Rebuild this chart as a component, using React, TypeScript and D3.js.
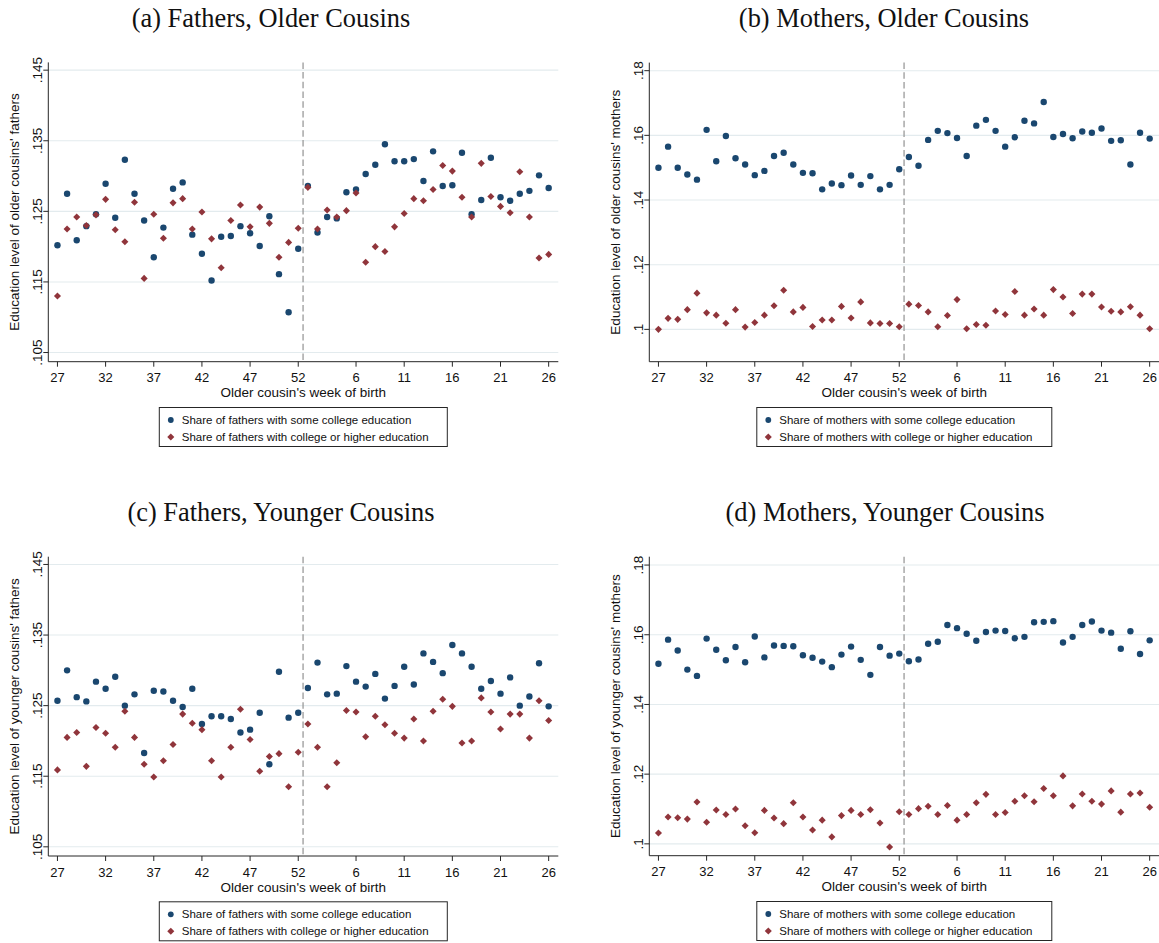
import React from 'react';
import * as d3 from 'd3';

// Week of birth of the older cousin, running from week 27 through the turn of the year to week 26
const weekLabels = [
  27, 28, 29, 30, 31, 32, 33, 34, 35, 36, 37, 38, 39, 40, 41, 42, 43, 44, 45, 46, 47, 48, 49, 50, 51, 52,
  1, 2, 3, 4, 5, 6, 7, 8, 9, 10, 11, 12, 13, 14, 15, 16, 17, 18, 19, 20, 21, 22, 23, 24, 25, 26,
];
const xTickWeeks = [27, 32, 37, 42, 47, 52, 6, 11, 16, 21, 26];
const cutoffAfterWeek = 52;

const fatherTicks = [0.105, 0.115, 0.125, 0.135, 0.145];
const motherTicks = [0.1, 0.12, 0.14, 0.16, 0.18];

// (a) fathers of older cousins
const fathersOlderSome = [
  0.1202, 0.1275, 0.1209, 0.1229, 0.1246, 0.1289, 0.1241, 0.1323, 0.1275, 0.1237, 0.1185, 0.1227, 0.1282,
  0.1291, 0.1217, 0.119, 0.1152, 0.1214, 0.1215, 0.1229, 0.1219, 0.1201, 0.1243, 0.1161, 0.1107, 0.1197,
  0.1286, 0.122, 0.1242, 0.124, 0.1277, 0.1281, 0.1303, 0.1316, 0.1345, 0.1321, 0.1321, 0.1324, 0.1293,
  0.1335, 0.1286, 0.1287, 0.1333, 0.1246, 0.1266, 0.1326, 0.127, 0.1265, 0.1275, 0.1279, 0.1301, 0.1283,
];
const fathersOlderCollege = [
  0.113, 0.1225, 0.1242, 0.123, 0.1245, 0.1267, 0.1224, 0.1207, 0.1263, 0.1155, 0.1246, 0.1212, 0.1262,
  0.1268, 0.1225, 0.1249, 0.1211, 0.117, 0.1237, 0.1259, 0.1228, 0.1256, 0.1233, 0.1185, 0.1206, 0.1226,
  0.1284, 0.1225, 0.1252, 0.1242, 0.1251, 0.1276, 0.1178, 0.12, 0.1193, 0.1228, 0.1247, 0.1268, 0.1265,
  0.1281, 0.1315, 0.1307, 0.127, 0.1242, 0.1318, 0.1271, 0.1257, 0.1248, 0.1306, 0.1242, 0.1184, 0.1189,
];

// (b) mothers of older cousins
const mothersOlderSome = [
  0.15, 0.1565, 0.15, 0.1479, 0.1463, 0.1617, 0.152, 0.1598, 0.1529, 0.151, 0.1477, 0.149, 0.1536,
  0.1546, 0.151, 0.1484, 0.1483, 0.1433, 0.1451, 0.1446, 0.1476, 0.1447, 0.1474, 0.1433, 0.1447, 0.1495,
  0.1533, 0.1506, 0.1586, 0.1614, 0.1607, 0.1592, 0.1536, 0.163, 0.1648, 0.1614, 0.1565, 0.1594, 0.1645,
  0.1637, 0.1703, 0.1595, 0.1604, 0.1591, 0.1612, 0.1608, 0.1621, 0.1583, 0.1585, 0.151, 0.1608, 0.159,
];
const mothersOlderCollege = [
  0.1, 0.1034, 0.1031, 0.1061, 0.1112, 0.1051, 0.1044, 0.1019, 0.1061, 0.1007, 0.1021, 0.1044, 0.1073,
  0.1121, 0.1054, 0.1068, 0.1009, 0.1029, 0.1029, 0.1071, 0.1035, 0.1085, 0.102, 0.1018, 0.1018, 0.1008,
  0.1078, 0.1074, 0.1054, 0.1008, 0.1043, 0.1092, 0.1002, 0.1015, 0.1013, 0.1057, 0.1046, 0.1117, 0.1044,
  0.1063, 0.1044, 0.1123, 0.11, 0.1049, 0.1109, 0.1109, 0.1069, 0.1056, 0.1054, 0.107, 0.1044, 0.1002,
];

// (c) fathers of younger cousins
const fathersYoungerSome = [
  0.1257, 0.13, 0.1262, 0.1256, 0.1284, 0.1274, 0.1291, 0.125, 0.1266, 0.1183, 0.1271, 0.127, 0.1257,
  0.1248, 0.1274, 0.1224, 0.1235, 0.1235, 0.1231, 0.1212, 0.1216, 0.124, 0.1167, 0.1298, 0.1233, 0.124,
  0.1275, 0.1311, 0.1266, 0.1267, 0.1306, 0.1284, 0.1277, 0.1295, 0.126, 0.1278, 0.1305, 0.128, 0.1324,
  0.1312, 0.1296, 0.1336, 0.1324, 0.1305, 0.1274, 0.1285, 0.1267, 0.129, 0.125, 0.1263, 0.131, 0.1249,
];
const fathersYoungerCollege = [
  0.1159, 0.1205, 0.1212, 0.1164, 0.1219, 0.1211, 0.1191, 0.1242, 0.1205, 0.1167, 0.1149, 0.1172, 0.1195,
  0.1238, 0.1225, 0.1216, 0.1172, 0.1149, 0.1191, 0.1245, 0.1202, 0.1157, 0.1178, 0.1182, 0.1135, 0.1184,
  0.1224, 0.1191, 0.1135, 0.1169, 0.1243, 0.1241, 0.1206, 0.1235, 0.1223, 0.1211, 0.1204, 0.1231, 0.12,
  0.1242, 0.1259, 0.1249, 0.1197, 0.12, 0.1261, 0.1241, 0.1217, 0.1238, 0.1238, 0.1204, 0.1257, 0.1229,
];

// (d) mothers of younger cousins
const mothersYoungerSome = [
  0.1517, 0.1586, 0.1555, 0.15, 0.1482, 0.1589, 0.1557, 0.1527, 0.1565, 0.1521, 0.1595, 0.1535, 0.1569,
  0.1568, 0.1567, 0.1541, 0.1534, 0.1523, 0.1507, 0.1543, 0.1566, 0.1528, 0.1485, 0.1565, 0.154, 0.1546,
  0.1524, 0.1529, 0.1574, 0.158, 0.1628, 0.1619, 0.1603, 0.1583, 0.1608, 0.1612, 0.1611, 0.159, 0.1594,
  0.1636, 0.1637, 0.1639, 0.1578, 0.1594, 0.1628, 0.1638, 0.1612, 0.1606, 0.156, 0.161, 0.1545, 0.1584,
];
const mothersYoungerCollege = [
  0.1031, 0.1077, 0.1075, 0.1071, 0.112, 0.1062, 0.1097, 0.1084, 0.11, 0.1052, 0.1032, 0.1096, 0.1074,
  0.1058, 0.1118, 0.1077, 0.104, 0.1068, 0.102, 0.1081, 0.1096, 0.1084, 0.1098, 0.106, 0.0991, 0.1092,
  0.1084, 0.1101, 0.1108, 0.1084, 0.111, 0.1068, 0.1084, 0.1118, 0.1142, 0.1084, 0.109, 0.1122, 0.1138,
  0.1121, 0.1159, 0.1138, 0.1195, 0.1109, 0.1143, 0.1122, 0.1114, 0.1152, 0.1091, 0.1143, 0.1146, 0.1105,
];

const W = 1159;
const H = 943;
const BLUE = '#1a476f';
const RED = '#90353b';
const GRID = '#e3ebee';
const AXIS = '#262626';
const SANS = '"Liberation Sans", Arial, sans-serif';
const SERIF = '"Liberation Serif", "Times New Roman", serif';

type PanelCfg = {
  title: string;
  titleX: number;
  yLabel: string;
  some: number[];
  college: number[];
  someLabel: string;
  collegeLabel: string;
  ticks: number[];
  yDomain: [number, number];
  left: number;
  bottom: number;
  top: number;
  legendW: number;
};

const plotWidth = 510;

const panels: PanelCfg[] = [
  {
    title: '(a) Fathers, Older Cousins', titleX: 271,
    yLabel: "Education level of older cousins' fathers",
    some: fathersOlderSome, college: fathersOlderCollege,
    someLabel: 'Share of fathers with some college education',
    collegeLabel: 'Share of fathers with college or higher education',
    ticks: fatherTicks, yDomain: [0.1037, 0.1461],
    left: 48.3, bottom: 361.7, top: 62.4, legendW: 288,
  },
  {
    title: '(b) Mothers, Older Cousins', titleX: 884,
    yLabel: "Education level of older cousins' mothers",
    some: mothersOlderSome, college: mothersOlderCollege,
    someLabel: 'Share of mothers with some college education',
    collegeLabel: 'Share of mothers with college or higher education',
    ticks: motherTicks, yDomain: [0.09, 0.1825],
    left: 649.3, bottom: 361.7, top: 62.6, legendW: 295,
  },
  {
    title: '(c) Fathers, Younger Cousins', titleX: 281,
    yLabel: "Education level of younger cousins' fathers",
    some: fathersYoungerSome, college: fathersYoungerCollege,
    someLabel: 'Share of fathers with some college education',
    collegeLabel: 'Share of fathers with college or higher education',
    ticks: fatherTicks, yDomain: [0.1037, 0.1461],
    left: 48.3, bottom: 856, top: 556.7, legendW: 288,
  },
  {
    title: '(d) Mothers, Younger Cousins', titleX: 885,
    yLabel: "Education level of younger cousins' mothers",
    some: mothersYoungerSome, college: mothersYoungerCollege,
    someLabel: 'Share of mothers with some college education',
    collegeLabel: 'Share of mothers with college or higher education',
    ticks: motherTicks, yDomain: [0.0966, 0.1824],
    left: 649.3, bottom: 855.7, top: 556.7, legendW: 295,
  },
];

const fmtTick = (v: number) => d3.format('.3~f')(v).replace(/^0/, '');

const diamondPath = d3.symbol(d3.symbolSquare, 25)() as string;

function Panel({ cfg }: { cfg: PanelCfg }) {
  const idx = weekLabels.map((_, i) => i);
  const x = d3.scaleLinear().domain([-0.95, 52]).range([cfg.left, cfg.left + plotWidth]);
  const y = d3.scaleLinear().domain(cfg.yDomain).range([cfg.bottom, cfg.top]);
  const right = cfg.left + plotWidth;
  const cx = (cfg.left + right) / 2;
  const cutIdx = weekLabels.indexOf(cutoffAfterWeek) + 0.5;
  const titleY = cfg.top - 35.3;
  const legendTop = cfg.bottom + 45.8;
  const legendLeft = cx - cfg.legendW / 2;

  return (
    <g>
      <text x={cfg.titleX} y={titleY} textAnchor="middle" fontFamily={SERIF} fontSize={26.4} fill="#111">
        {cfg.title}
      </text>

      {/* horizontal grid */}
      {cfg.ticks.map((t) => (
        <line key={'g' + t} x1={cfg.left} x2={right} y1={y(t)} y2={y(t)} stroke={GRID} strokeWidth={1.1} />
      ))}

      {/* threshold between week 52 and week 1 */}
      <line
        x1={x(cutIdx)} x2={x(cutIdx)} y1={cfg.top} y2={cfg.bottom}
        stroke="#9a9a9a" strokeWidth={1.3} strokeDasharray="6.5,3.2"
      />

      {/* y axis */}
      <line x1={cfg.left} x2={cfg.left} y1={cfg.top} y2={cfg.bottom} stroke={AXIS} strokeWidth={1} />
      {cfg.ticks.map((t) => (
        <g key={'yt' + t}>
          <line x1={cfg.left - 5} x2={cfg.left} y1={y(t)} y2={y(t)} stroke={AXIS} strokeWidth={1} />
          <text
            transform={`translate(${cfg.left - 6},${y(t)}) rotate(-90)`}
            textAnchor="middle" fontFamily={SANS} fontSize={13.5} fill="#111"
          >
            {fmtTick(t)}
          </text>
        </g>
      ))}
      <text
        transform={`translate(${cfg.left - 29},${(cfg.top + cfg.bottom) / 2}) rotate(-90)`}
        textAnchor="middle" fontFamily={SANS} fontSize={13.5} fill="#111"
      >
        {cfg.yLabel}
      </text>

      {/* x axis */}
      <line x1={cfg.left} x2={right} y1={cfg.bottom} y2={cfg.bottom} stroke={AXIS} strokeWidth={1} />
      {xTickWeeks.map((w) => {
        const xi = x(weekLabels.indexOf(w));
        return (
          <g key={'xt' + w}>
            <line x1={xi} x2={xi} y1={cfg.bottom} y2={cfg.bottom + 5} stroke={AXIS} strokeWidth={1} />
            <text x={xi} y={cfg.bottom + 20.5} textAnchor="middle" fontFamily={SANS} fontSize={13} fill="#111">
              {w}
            </text>
          </g>
        );
      })}
      <text x={cx} y={cfg.bottom + 35.5} textAnchor="middle" fontFamily={SANS} fontSize={13.5} fill="#111">
        Older cousin's week of birth
      </text>

      {/* series */}
      {idx.map((i) => (
        <circle key={'s' + i} cx={x(i)} cy={y(cfg.some[i])} r={3.2} fill={BLUE} />
      ))}
      {idx.map((i) => (
        <path
          key={'c' + i} d={diamondPath}
          transform={`translate(${x(i)},${y(cfg.college[i])}) rotate(45)`} fill={RED}
        />
      ))}

      {/* legend */}
      <rect x={legendLeft} y={legendTop} width={cfg.legendW} height={39} fill="#fff" stroke={AXIS} strokeWidth={1} />
      <circle cx={legendLeft + 11.5} cy={legendTop + 12.5} r={2.9} fill={BLUE} />
      <text x={legendLeft + 22.5} y={legendTop + 12.5} dy="0.35em" fontFamily={SANS} fontSize={11.5} fill="#111">
        {cfg.someLabel}
      </text>
      <path d={diamondPath} transform={`translate(${legendLeft + 11.5},${legendTop + 29.5}) rotate(45)`} fill={RED} />
      <text x={legendLeft + 22.5} y={legendTop + 29.5} dy="0.35em" fontFamily={SANS} fontSize={11.5} fill="#111">
        {cfg.collegeLabel}
      </text>
    </g>
  );
}

export default function App() {
  return (
    <svg
      width={W} height={H} viewBox={`0 0 ${W} ${H}`}
      style={{ position: 'absolute', left: 0, top: 0, background: '#fff' }}
    >
      <rect width={W} height={H} fill="#fff" />
      {panels.map((p) => (
        <Panel key={p.title} cfg={p} />
      ))}
    </svg>
  );
}
